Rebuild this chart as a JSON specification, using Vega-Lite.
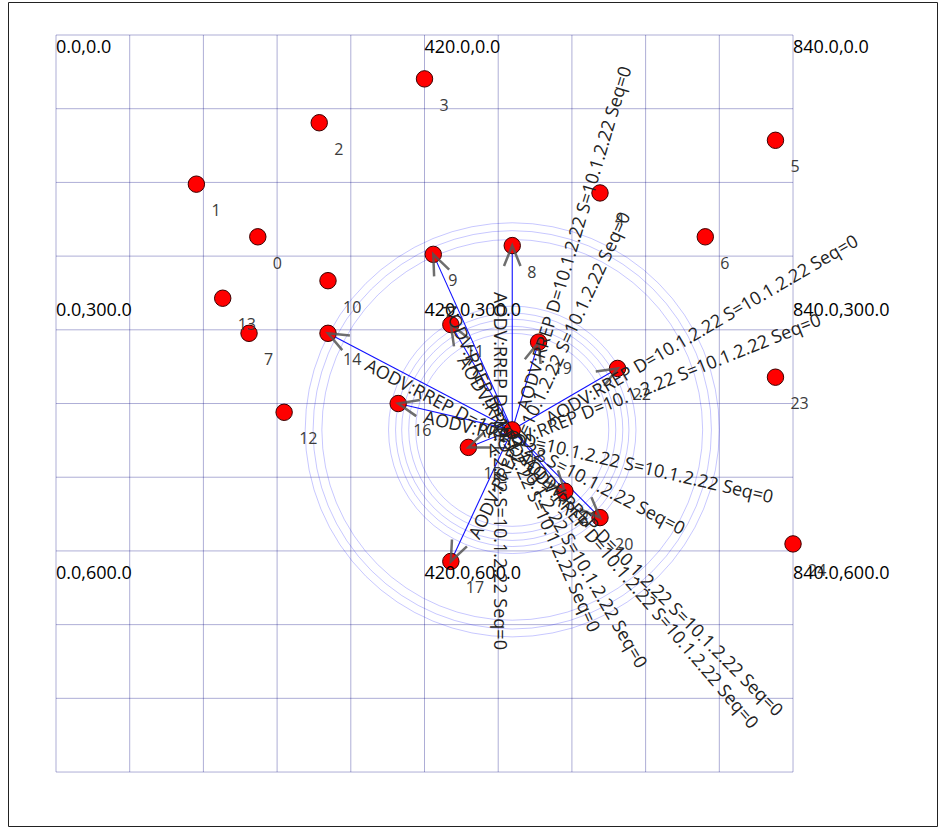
{
  "$schema": "https://vega.github.io/schema/vega-lite/v6.json",
  "width": 929,
  "height": 824,
  "autosize": "none",
  "padding": {"left": 8, "top": 2, "right": 1, "bottom": 1},
  "background": "white",
  "config": {"view": {"stroke": "#222222", "strokeWidth": 1}, "font": "Open Sans"},
  "datasets": {
    "grid": [{"v": 0}, {"v": 84}, {"v": 168}, {"v": 252}, {"v": 336}, {"v": 420}, {"v": 504}, {"v": 588}, {"v": 672}, {"v": 756}, {"v": 840}],
    "rings": [{"cx": 520, "cy": 450, "r": 236}, {"cx": 520, "cy": 450, "r": 227}, {"cx": 520, "cy": 450, "r": 217}, {"cx": 520, "cy": 450, "r": 141}, {"cx": 520, "cy": 450, "r": 133}, {"cx": 520, "cy": 450, "r": 126}, {"cx": 520, "cy": 450, "r": 118}, {"cx": 520, "cy": 450, "r": 110}],
    "nodes": [
      {"id": "0", "x": 230, "y": 230}, {"id": "1", "x": 160, "y": 170}, {"id": "2", "x": 300, "y": 100},
      {"id": "3", "x": 420, "y": 50}, {"id": "4", "x": 620, "y": 180}, {"id": "5", "x": 820, "y": 120},
      {"id": "6", "x": 740, "y": 230}, {"id": "7", "x": 220, "y": 340}, {"id": "8", "x": 520, "y": 240},
      {"id": "9", "x": 430, "y": 250}, {"id": "10", "x": 310, "y": 280}, {"id": "11", "x": 450, "y": 330},
      {"id": "12", "x": 260, "y": 430}, {"id": "13", "x": 190, "y": 300}, {"id": "14", "x": 310, "y": 340},
      {"id": "15", "x": 470, "y": 470}, {"id": "16", "x": 390, "y": 420}, {"id": "17", "x": 450, "y": 600},
      {"id": "18", "x": 520, "y": 450}, {"id": "19", "x": 550, "y": 350}, {"id": "20", "x": 620, "y": 550},
      {"id": "21", "x": 580, "y": 520}, {"id": "22", "x": 640, "y": 380}, {"id": "23", "x": 820, "y": 390},
      {"id": "24", "x": 840, "y": 580}
    ],
    "links": [
      {"to": "8", "x": 520, "y": 240, "sx": 520, "sy": 450, "heading": -90, "px": 504.9, "py": 292.9, "textAngle": 90, "label": "AODV:RREP D=10.1.2.22 S=10.1.2.22 Seq=0"},
      {"to": "9", "x": 430, "y": 250, "sx": 520, "sy": 450, "heading": -114.2, "px": 445.6, "py": 307.7, "textAngle": 65.8, "label": "AODV:RREP D=10.1.2.22 S=10.1.2.22 Seq=0"},
      {"to": "11", "x": 450, "y": 330, "sx": 520, "sy": 450, "heading": -120.3, "px": 461.6, "py": 368.1, "textAngle": 59.7, "label": "AODV:RREP D=10.1.2.22 S=10.1.2.22 Seq=0"},
      {"to": "14", "x": 310, "y": 340, "sx": 520, "sy": 450, "heading": -152.4, "px": 353.3, "py": 376.1, "textAngle": 27.6, "label": "AODV:RREP D=10.1.2.22 S=10.1.2.22 Seq=0"},
      {"to": "16", "x": 390, "y": 420, "sx": 520, "sy": 450, "heading": -167.0, "px": 419.4, "py": 436.5, "textAngle": 13.0, "label": "AODV:RREP D=10.1.2.22 S=10.1.2.22 Seq=0"},
      {"to": "15", "x": 470, "y": 470, "sx": 520, "sy": 450, "heading": 158.2, "px": 492.4, "py": 476.4, "textAngle": -21.8, "label": "AODV:RREP D=10.1.2.22 S=10.1.2.22 Seq=0"},
      {"to": "17", "x": 450, "y": 600, "sx": 520, "sy": 450, "heading": 115.0, "px": 477.6, "py": 573.3, "textAngle": -65.0, "label": "AODV:RREP D=10.1.2.22 S=10.1.2.22 Seq=0"},
      {"to": "20", "x": 620, "y": 550, "sx": 520, "sy": 450, "heading": 45.0, "px": 535.7, "py": 485.5, "textAngle": 45.0, "label": "AODV:RREP D=10.1.2.22 S=10.1.2.22 Seq=0"},
      {"to": "21", "x": 580, "y": 520, "sx": 520, "sy": 450, "heading": 49.4, "px": 530.0, "py": 478.7, "textAngle": 49.4, "label": "AODV:RREP D=10.1.2.22 S=10.1.2.22 Seq=0"},
      {"to": "22", "x": 640, "y": 380, "sx": 520, "sy": 450, "heading": -30.3, "px": 560.8, "py": 439.9, "textAngle": -30.3, "label": "AODV:RREP D=10.1.2.22 S=10.1.2.22 Seq=0"},
      {"to": "19", "x": 550, "y": 350, "sx": 520, "sy": 450, "heading": -73.3, "px": 533.4, "py": 427.4, "textAngle": -73.3, "label": "AODV:RREP D=10.1.2.22 S=10.1.2.22 Seq=0"}
    ],
    "coords": [
      {"x": 0, "y": 0, "label": "0.0,0.0"}, {"x": 420, "y": 0, "label": "420.0,0.0"}, {"x": 840, "y": 0, "label": "840.0,0.0"},
      {"x": 0, "y": 300, "label": "0.0,300.0"}, {"x": 420, "y": 300, "label": "420.0,300.0"}, {"x": 840, "y": 300, "label": "840.0,300.0"},
      {"x": 0, "y": 600, "label": "0.0,600.0"}, {"x": 420, "y": 600, "label": "420.0,600.0"}, {"x": 840, "y": 600, "label": "840.0,600.0"}
    ]
  },
  "layer": [
    {
      "data": {"name": "grid"},
      "mark": {"type": "rule", "stroke": "#000080", "strokeOpacity": 0.32, "strokeWidth": 1},
      "encoding": {
        "x": {"field": "v", "type": "quantitative", "scale": {"domain": [-54.71, 1004.1], "nice": false, "zero": false}, "axis": null},
        "y": {"datum": 0, "type": "quantitative", "scale": {"domain": [-37.61, 901.5], "nice": false, "zero": false, "reverse": true}, "axis": null},
        "y2": {"datum": 840}
      }
    },
    {
      "data": {"name": "grid"},
      "mark": {"type": "rule", "stroke": "#000080", "strokeOpacity": 0.32, "strokeWidth": 1},
      "encoding": {
        "y": {"field": "v", "type": "quantitative", "scale": {"domain": [-37.61, 901.5], "nice": false, "zero": false, "reverse": true}, "axis": null},
        "x": {"datum": 0, "type": "quantitative", "scale": {"domain": [-54.71, 1004.1], "nice": false, "zero": false}, "axis": null},
        "x2": {"datum": 840}
      }
    },
    {
      "data": {"name": "rings"},
      "mark": {"type": "point", "shape": "circle", "filled": false, "stroke": "#0000ff", "strokeOpacity": 0.22, "strokeWidth": 1, "opacity": 1},
      "encoding": {
        "x": {"field": "cx", "type": "quantitative", "scale": {"domain": [-54.71, 1004.1], "nice": false, "zero": false}, "axis": null},
        "y": {"field": "cy", "type": "quantitative", "scale": {"domain": [-37.61, 901.5], "nice": false, "zero": false, "reverse": true}, "axis": null},
        "size": {"field": "r", "type": "quantitative", "scale": {"type": "pow", "exponent": 2, "domain": [0, 1000], "range": [0, 3079184]}, "legend": null}
      }
    },
    {
      "data": {"name": "links"},
      "mark": {"type": "rule", "stroke": "#1010ff", "strokeWidth": 1.1},
      "encoding": {
        "x": {"field": "x", "type": "quantitative", "scale": {"domain": [-54.71, 1004.1], "nice": false, "zero": false}, "axis": null},
        "y": {"field": "y", "type": "quantitative", "scale": {"domain": [-37.61, 901.5], "nice": false, "zero": false, "reverse": true}, "axis": null},
        "x2": {"field": "sx"},
        "y2": {"field": "sy"}
      }
    },
    {
      "data": {"name": "nodes"},
      "mark": {"type": "point", "shape": "circle", "filled": true, "fill": "#ff0000", "stroke": "#3a0000", "strokeWidth": 1, "opacity": 1, "size": 270},
      "encoding": {
        "x": {"field": "x", "type": "quantitative", "scale": {"domain": [-54.71, 1004.1], "nice": false, "zero": false}, "axis": null},
        "y": {"field": "y", "type": "quantitative", "scale": {"domain": [-37.61, 901.5], "nice": false, "zero": false, "reverse": true}, "axis": null}
      }
    },
    {
      "data": {"name": "links"},
      "mark": {"type": "point", "shape": "M -0.375 0.927 L 0 0 L 0.375 0.927", "filled": false, "stroke": "#555555", "strokeWidth": 2.5, "strokeOpacity": 0.85, "opacity": 1, "size": 1936},
      "encoding": {
        "x": {"field": "x", "type": "quantitative", "scale": {"domain": [-54.71, 1004.1], "nice": false, "zero": false}, "axis": null},
        "y": {"field": "y", "type": "quantitative", "scale": {"domain": [-37.61, 901.5], "nice": false, "zero": false, "reverse": true}, "axis": null},
        "angle": {"field": "heading", "type": "quantitative", "scale": {"domain": [-180, 180], "range": [-90, 270]}, "legend": null}
      }
    },
    {
      "data": {"name": "nodes"},
      "mark": {"type": "text", "align": "left", "baseline": "alphabetic", "dx": 15, "dy": 32, "fontSize": 16, "fill": "#3c3c3c"},
      "encoding": {
        "x": {"field": "x", "type": "quantitative", "scale": {"domain": [-54.71, 1004.1], "nice": false, "zero": false}, "axis": null},
        "y": {"field": "y", "type": "quantitative", "scale": {"domain": [-37.61, 901.5], "nice": false, "zero": false, "reverse": true}, "axis": null},
        "text": {"field": "id", "type": "nominal"}
      }
    },
    {
      "data": {"name": "coords"},
      "mark": {"type": "text", "align": "left", "baseline": "alphabetic", "dx": 0, "dy": 18, "fontSize": 18, "fill": "#000000"},
      "encoding": {
        "x": {"field": "x", "type": "quantitative", "scale": {"domain": [-54.71, 1004.1], "nice": false, "zero": false}, "axis": null},
        "y": {"field": "y", "type": "quantitative", "scale": {"domain": [-37.61, 901.5], "nice": false, "zero": false, "reverse": true}, "axis": null},
        "text": {"field": "label", "type": "nominal"}
      }
    },
    {
      "data": {"name": "links"},
      "mark": {"type": "text", "align": "left", "baseline": "middle", "fontSize": 18, "fill": "#222222"},
      "encoding": {
        "x": {"field": "px", "type": "quantitative", "scale": {"domain": [-54.71, 1004.1], "nice": false, "zero": false}, "axis": null},
        "y": {"field": "py", "type": "quantitative", "scale": {"domain": [-37.61, 901.5], "nice": false, "zero": false, "reverse": true}, "axis": null},
        "angle": {"field": "textAngle", "type": "quantitative", "scale": null},
        "text": {"field": "label", "type": "nominal"}
      }
    }
  ]
}
